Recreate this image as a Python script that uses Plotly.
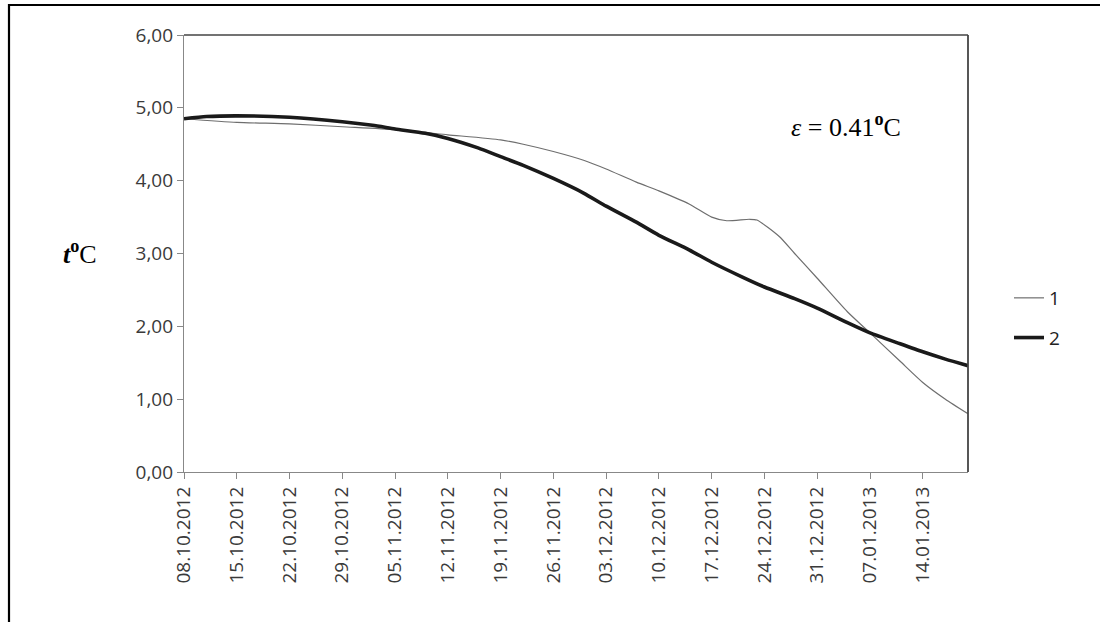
import pandas as pd
import plotly.graph_objects as go

# ---- data ----
dates_1 = ["2012-10-08", "2012-10-15", "2012-10-22", "2012-10-29", "2012-11-05",
           "2012-11-12", "2012-11-19", "2012-11-22", "2012-11-26", "2012-11-30",
           "2012-12-03", "2012-12-07", "2012-12-10", "2012-12-14", "2012-12-17",
           "2012-12-19", "2012-12-22", "2012-12-23", "2012-12-26", "2012-12-28",
           "2012-12-31", "2013-01-04", "2013-01-07", "2013-01-11", "2013-01-14",
           "2013-01-17", "2013-01-20"]
values_1 = [4.85, 4.80, 4.78, 4.74, 4.70,
            4.63, 4.56, 4.50, 4.40, 4.28,
            4.16, 3.98, 3.86, 3.68, 3.50,
            3.45, 3.47, 3.46, 3.23, 3.00,
            2.66, 2.20, 1.91, 1.52, 1.23,
            1.00, 0.80]

dates_2 = ["2012-10-08", "2012-10-11", "2012-10-15", "2012-10-22", "2012-10-29",
           "2012-11-02", "2012-11-05", "2012-11-09", "2012-11-12", "2012-11-16",
           "2012-11-19", "2012-11-22", "2012-11-26", "2012-11-30", "2012-12-03",
           "2012-12-07", "2012-12-10", "2012-12-14", "2012-12-17", "2012-12-21",
           "2012-12-24", "2012-12-28", "2012-12-31", "2013-01-04", "2013-01-07",
           "2013-01-11", "2013-01-14", "2013-01-17", "2013-01-20"]
values_2 = [4.85, 4.88, 4.89, 4.87, 4.81,
            4.76, 4.71, 4.65, 4.58, 4.45,
            4.33, 4.21, 4.03, 3.83, 3.65,
            3.43, 3.25, 3.05, 2.88, 2.68,
            2.54, 2.38, 2.25, 2.05, 1.91,
            1.76, 1.65, 1.55, 1.46]

tick_labels = ["08.10.2012", "15.10.2012", "22.10.2012", "29.10.2012", "05.11.2012",
               "12.11.2012", "19.11.2012", "26.11.2012", "03.12.2012", "10.12.2012",
               "17.12.2012", "24.12.2012", "31.12.2012", "07.01.2013", "14.01.2013"]
y_ticks = [0, 1, 2, 3, 4, 5, 6]
series_names = ["1", "2"]

tick_vals = [pd.to_datetime(t, format="%d.%m.%Y").strftime("%Y-%m-%d") for t in tick_labels]

W, H = 1100, 622
L, R, T, B = 184, 132, 35, 150
pw, ph = W - L - R, H - T - B

def px_x(p):  # reference screen x -> paper x
    return (p - L) / pw

def px_y(p):  # reference screen y -> paper y
    return (H - B - p) / ph

tick_font = dict(family="Open Sans, Liberation Sans, sans-serif", size=19, color="#3a3a3a")

fig = go.Figure()
fig.add_trace(go.Scatter(
    x=dates_1, y=values_1, mode="lines", name=series_names[0], legendgroup="a",
    line=dict(color="#6e6e6e", width=1.2, shape="spline", smoothing=0.6),
))
fig.add_trace(go.Scatter(
    x=dates_2, y=values_2, mode="lines", name=series_names[1], legendgroup="b",
    line=dict(color="#1a1a1a", width=3.6, shape="spline", smoothing=0.6),
))

fig.update_layout(
    width=W, height=H,
    margin=dict(l=L, r=R, t=T, b=B, pad=0),
    paper_bgcolor="white", plot_bgcolor="white",
    separators=",.",
    showlegend=True,
    legend=dict(x=px_x(1009), y=px_y(279), xanchor="left", yanchor="top",
                font=dict(family="Open Sans, Liberation Sans, sans-serif", size=19, color="#222"),
                tracegroupgap=12, bgcolor="rgba(0,0,0,0)"),
    xaxis=dict(
        type="date", range=["2012-10-08", "2013-01-20"],
        tickvals=tick_vals, ticktext=tick_labels, tickangle=-90,
        ticks="outside", ticklen=6, tickcolor="#888", tickwidth=1,
        showline=True, linecolor="#888", linewidth=1.2,
        showgrid=False, zeroline=False, tickfont=tick_font,
    ),
    yaxis=dict(
        range=[0, 6], tickvals=y_ticks, tickformat=".2f",
        ticks="outside", ticklen=6, tickcolor="#888", tickwidth=1,
        showline=True, linecolor="#888", linewidth=1.2,
        showgrid=False, zeroline=False, tickfont=tick_font,
    ),
    shapes=[
        # top and right border of the plot area
        dict(type="line", xref="paper", yref="paper", x0=0, x1=1, y0=1, y1=1,
             line=dict(color="#444", width=1.5)),
        dict(type="line", xref="paper", yref="paper", x0=1, x1=1, y0=0, y1=1,
             line=dict(color="#444", width=1.8)),
        # outer frame of the picture
        dict(type="rect", xref="paper", yref="paper",
             x0=px_x(9), x1=px_x(1112), y0=px_y(640), y1=px_y(5),
             line=dict(color="black", width=2.2)),
    ],
    annotations=[
        dict(text="<b><i>t</i></b><sup><b>o</b></sup>C", xref="paper", yref="paper",
             x=px_x(80), y=px_y(253), showarrow=False, xanchor="center", yanchor="middle",
             font=dict(family="Liberation Serif, serif", size=26, color="black")),
        dict(text="<i>ε</i> = 0.41<sup><b>o</b></sup>C", xref="paper", yref="paper",
             x=px_x(846), y=px_y(125), showarrow=False, xanchor="center", yanchor="middle",
             font=dict(family="Liberation Serif, serif", size=26, color="black")),
    ],
)

fig.write_html("out.html", config={"displayModeBar": False},
               post_script="document.body.style.margin='0';")
